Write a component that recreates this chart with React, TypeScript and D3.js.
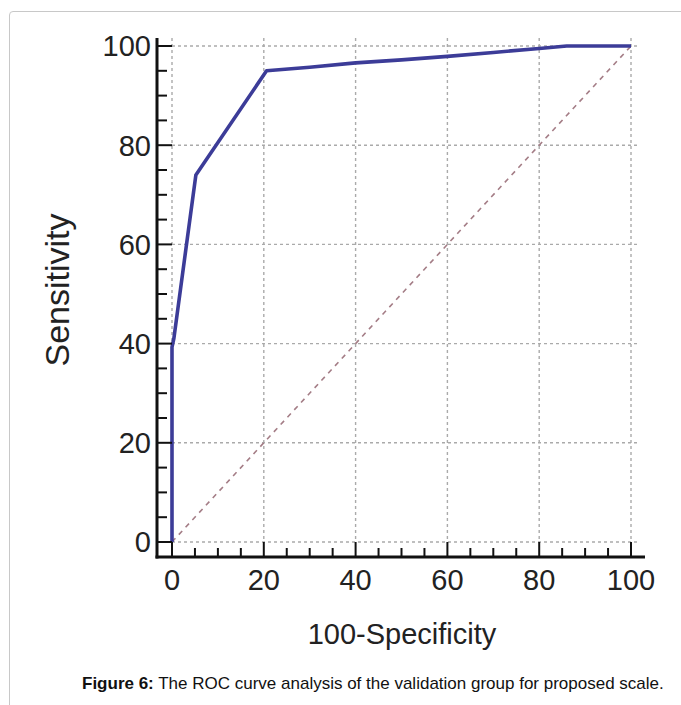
import React, { useEffect } from "react";
import * as d3 from "d3";

const fpr = [0, 0, 0.4, 5.2, 20.6, 30, 40, 50, 60, 70, 80, 86, 100];
const tpr = [0, 39.3, 41, 74, 95, 95.7, 96.6, 97.2, 97.9, 98.7, 99.5, 100, 100];
const majorTicks = [0, 20, 40, 60, 80, 100];
const minorTicks = d3.range(0, 101, 5).filter((v) => v % 20 !== 0);
const xTitle = "100-Specificity";
const yTitle = "Sensitivity";
const captionBold = "Figure 6:";
const captionText = " The ROC curve analysis of the validation group for proposed scale.";

const W = 681;
const H = 705;

export default function App() {
  useEffect(() => {
    document.body.style.margin = "0";
  }, []);
  const x = d3.scaleLinear().domain([0, 100]).range([172, 631]);
  const y = d3.scaleLinear().domain([0, 100]).range([542, 46]);
  const axX = x(0) - 15;
  const axY = y(0) + 15;
  const pts: [number, number][] = fpr.map((f, i) => [f, tpr[i]]);
  const line = d3
    .line<[number, number]>()
    .x((d) => x(d[0]))
    .y((d) => y(d[1]));
  const font = "'Liberation Sans', Arial, sans-serif";
  return (
    <svg width={W} height={H} style={{ display: "block" }}>
      <rect width={W} height={H} fill="#fff" />
      <path
        d={`M9.5,${H + 5} L9.5,15 Q9.5,11.5 13,11.5 L${W + 5},11.5`}
        fill="none"
        stroke="#c8c8c8"
        strokeWidth={1}
      />
      {/* grid */}
      {majorTicks.map((v) => (
        <line
          key={"gv" + v}
          x1={x(v)}
          x2={x(v)}
          y1={y(100) - 8}
          y2={y(0)}
          stroke="#aaaaaa"
          strokeWidth={1.4}
          strokeDasharray="3,3"
        />
      ))}
      {majorTicks.map((v) => (
        <line
          key={"gh" + v}
          x1={x(0)}
          x2={x(100) + 9}
          y1={y(v)}
          y2={y(v)}
          stroke="#aaaaaa"
          strokeWidth={1.4}
          strokeDasharray="3,3"
        />
      ))}
      {/* diagonal */}
      <line
        x1={x(0)}
        y1={y(0)}
        x2={x(100)}
        y2={y(100)}
        stroke="#a47d86"
        strokeWidth={1.6}
        strokeDasharray="5,5"
      />
      {/* ROC curve */}
      <path d={line(pts) || ""} fill="none" stroke="#3c3c98" strokeWidth={3.6} strokeLinejoin="round" />
      {/* axes */}
      <line x1={axX} x2={axX} y1={y(100) - 8} y2={axY + 1.5} stroke="#111" strokeWidth={3} />
      <line x1={axX - 1.5} x2={x(100) + 14} y1={axY} y2={axY} stroke="#111" strokeWidth={3} />
      {majorTicks.map((v) => (
        <line key={"ym" + v} x1={axX} x2={x(0)} y1={y(v)} y2={y(v)} stroke="#111" strokeWidth={2} />
      ))}
      {minorTicks.map((v) => (
        <line key={"yn" + v} x1={axX} x2={axX + 10} y1={y(v)} y2={y(v)} stroke="#111" strokeWidth={2} />
      ))}
      {majorTicks.map((v) => (
        <line key={"xm" + v} x1={x(v)} x2={x(v)} y1={axY} y2={y(0)} stroke="#111" strokeWidth={2} />
      ))}
      {minorTicks.map((v) => (
        <line key={"xn" + v} x1={x(v)} x2={x(v)} y1={axY} y2={axY - 9} stroke="#111" strokeWidth={2} />
      ))}
      {/* tick labels */}
      {majorTicks.map((v) => (
        <text
          key={"yl" + v}
          x={axX - 6}
          y={y(v)}
          dy="0.36em"
          textAnchor="end"
          fontFamily={font}
          fontSize={29}
          fill="#222"
        >
          {v}
        </text>
      ))}
      {majorTicks.map((v) => (
        <text
          key={"xl" + v}
          x={x(v)}
          y={axY + 33}
          textAnchor="middle"
          fontFamily={font}
          fontSize={29}
          fill="#222"
        >
          {v}
        </text>
      ))}
      <text x={402} y={644} textAnchor="middle" fontFamily={font} fontSize={29} fill="#222">
        {xTitle}
      </text>
      <text
        transform={`translate(69,290) rotate(-90)`}
        textAnchor="middle"
        fontFamily={font}
        fontSize={34}
        fill="#222"
      >
        {yTitle}
      </text>
      <text x={82} y={689} fontFamily={font} fontSize={17} fill="#111">
        <tspan fontWeight="bold">{captionBold}</tspan>
        <tspan>{captionText}</tspan>
      </text>
    </svg>
  );
}
